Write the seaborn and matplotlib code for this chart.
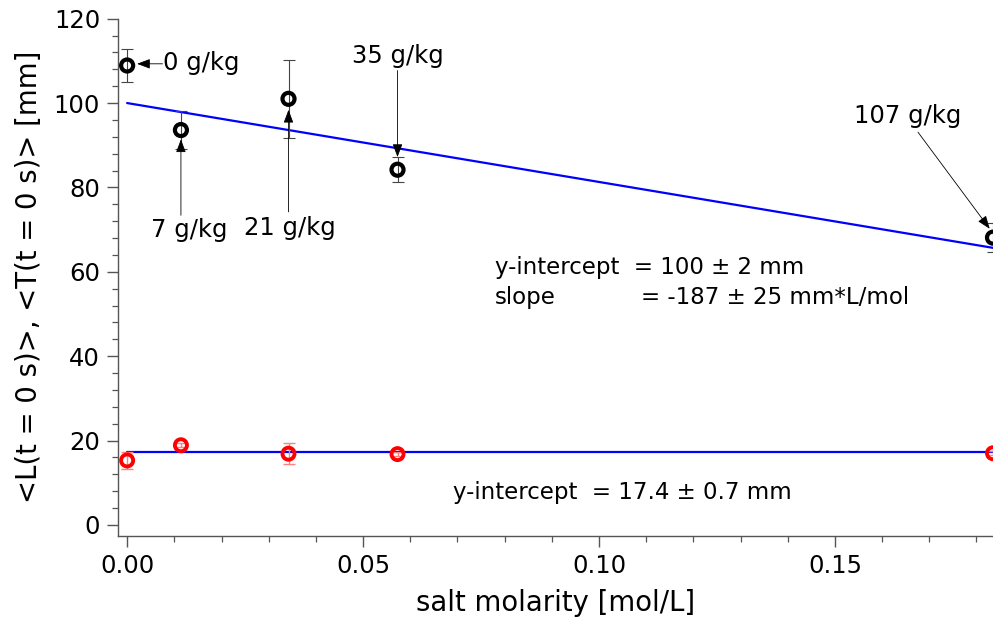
import numpy as np
import pandas as pd
import matplotlib
matplotlib.use("Agg")
import matplotlib.pyplot as plt
import seaborn as sns
from matplotlib.ticker import MultipleLocator, FormatStrFormatter

# Salt molarity of each solution [mol/L]
molarity = [0.0, 0.0114, 0.0342, 0.0573, 0.1835]
salinity_labels = ["0 g/kg", "7 g/kg", "21 g/kg", "35 g/kg", "107 g/kg"]

# Initial length <L(t=0 s)> and its uncertainty [mm]
length_mm = [108.9, 93.6, 101.0, 84.2, 68.1]
length_err = [4.0, 4.5, 9.2, 2.9, 3.4]

# Initial thickness <T(t=0 s)> and its uncertainty [mm]
thick_mm = [15.3, 18.9, 16.9, 16.8, 17.0]
thick_err = [2.0, 0.5, 2.5, 0.5, 0.5]

# Linear fit results
len_intercept, len_slope = 100.0, -187.0
thick_intercept = 17.4

sns.set_style("ticks")
plt.rcParams["font.family"] = ["DejaVu Sans"]
plt.rcParams["text.color"] = "black"
plt.rcParams["axes.labelcolor"] = "black"
plt.rcParams["xtick.labelcolor"] = "black"
plt.rcParams["ytick.labelcolor"] = "black"

fig = plt.figure(figsize=(9.93, 6.22), dpi=100)
ax = fig.add_axes([0.119, 0.139, 0.881, 0.831])

x_fit = np.array([0.0, max(molarity)])
fits = pd.DataFrame({
    "x": np.concatenate([x_fit, x_fit]),
    "y": np.concatenate([len_intercept + len_slope * x_fit,
                         np.full(2, thick_intercept)]),
    "fit": ["length"] * 2 + ["thickness"] * 2,
})
sns.lineplot(data=fits, x="x", y="y", units="fit", estimator=None,
             color="#0000ff", lw=1.6, ax=ax, zorder=2)

# Error bars
ax.errorbar(molarity, length_mm, yerr=length_err, fmt="none",
            ecolor="#444444", elinewidth=0.8, capsize=4, capthick=0.8, zorder=3)
ax.errorbar(molarity, thick_mm, yerr=thick_err, fmt="none",
            ecolor="#ff8080", elinewidth=1.0, capsize=4, capthick=1.0, zorder=3)

pts = pd.DataFrame({"x": molarity, "L": length_mm, "T": thick_mm})
sns.scatterplot(data=pts, x="x", y="L", marker="o", s=75, facecolor="none",
                edgecolor="black", linewidth=3.0, ax=ax, zorder=4)
sns.scatterplot(data=pts, x="x", y="T", marker="o", s=75, facecolor="none",
                edgecolor="#ff0000", linewidth=2.8, ax=ax, zorder=4)

ax.set_xlim(-0.0019, 0.1835)
ax.set_ylim(-2.5, 120)
ax.xaxis.set_major_locator(MultipleLocator(0.05))
ax.xaxis.set_minor_locator(MultipleLocator(0.01))
ax.yaxis.set_major_locator(MultipleLocator(20))
ax.yaxis.set_minor_locator(MultipleLocator(4))
ax.xaxis.set_major_formatter(FormatStrFormatter("%.2f"))
ax.tick_params(which="major", length=8, width=1.0, color="#555555",
               labelsize=17.5, pad=5)
ax.tick_params(which="minor", length=4.5, width=0.9, color="#555555")
sns.despine(ax=ax)
for s in ("left", "bottom"):
    ax.spines[s].set_color("#555555")
    ax.spines[s].set_linewidth(1.0)

ax.set_xlabel("salt molarity [mol/L]", fontsize=19.8, labelpad=8)
ax.set_ylabel("<L(t = 0 s)>, <T(t = 0 s)> [mm]", fontsize=19.8, labelpad=8)

# Salinity labels with arrows pointing to each point
arrow = dict(arrowstyle="-|>,head_length=0.8,head_width=0.3",
             mutation_scale=10, color="black", lw=0.6, shrinkA=0, shrinkB=0)
tsize = 17.5
ax.annotate(salinity_labels[0], xy=(0.0075, 109.6), xytext=(0.0076, 109.6),
            ha="left", va="center", fontsize=tsize)
ax.annotate("", xy=(0.0021, 109.3), xytext=(0.0075, 109.3), arrowprops=arrow)
ax.annotate(salinity_labels[1], xy=(molarity[1], 91.4), xytext=(0.0132, 69.8),
            ha="center", va="center", fontsize=tsize)
ax.annotate("", xy=(molarity[1], 91.4), xytext=(molarity[1], 73.4),
            arrowprops=arrow)
ax.annotate(salinity_labels[2], xy=(molarity[2], 98.4), xytext=(0.0344, 70.3),
            ha="center", va="center", fontsize=tsize)
ax.annotate("", xy=(molarity[2], 98.4), xytext=(molarity[2], 74.2),
            arrowprops=arrow)
ax.annotate(salinity_labels[3], xy=(molarity[3], 87.2), xytext=(0.0574, 111.2),
            ha="center", va="center", fontsize=tsize)
ax.annotate("", xy=(molarity[3], 87.2), xytext=(molarity[3], 107.7),
            arrowprops=arrow)
ax.annotate(salinity_labels[4], xy=(0.1828, 70.2), xytext=(0.1655, 97.0),
            ha="center", va="center", fontsize=tsize)
ax.annotate("", xy=(0.1828, 70.2), xytext=(0.1676, 93.1),
            arrowprops=arrow)

# Fit results
fsize = 16.5
ax.text(0.0780, 61.1, f"y-intercept  = {len_intercept:.0f} ± 2 mm",
        fontsize=fsize, va="center")
ax.text(0.0780, 54.0, "slope", fontsize=fsize, va="center")
ax.text(0.1090, 54.0, f"= {len_slope:.0f} ± 25 mm*L/mol", fontsize=fsize, va="center")
ax.text(0.0690, 7.8, f"y-intercept  = {thick_intercept} ± 0.7 mm",
        fontsize=fsize, va="center")

fig.savefig("out.png", dpi=100)
